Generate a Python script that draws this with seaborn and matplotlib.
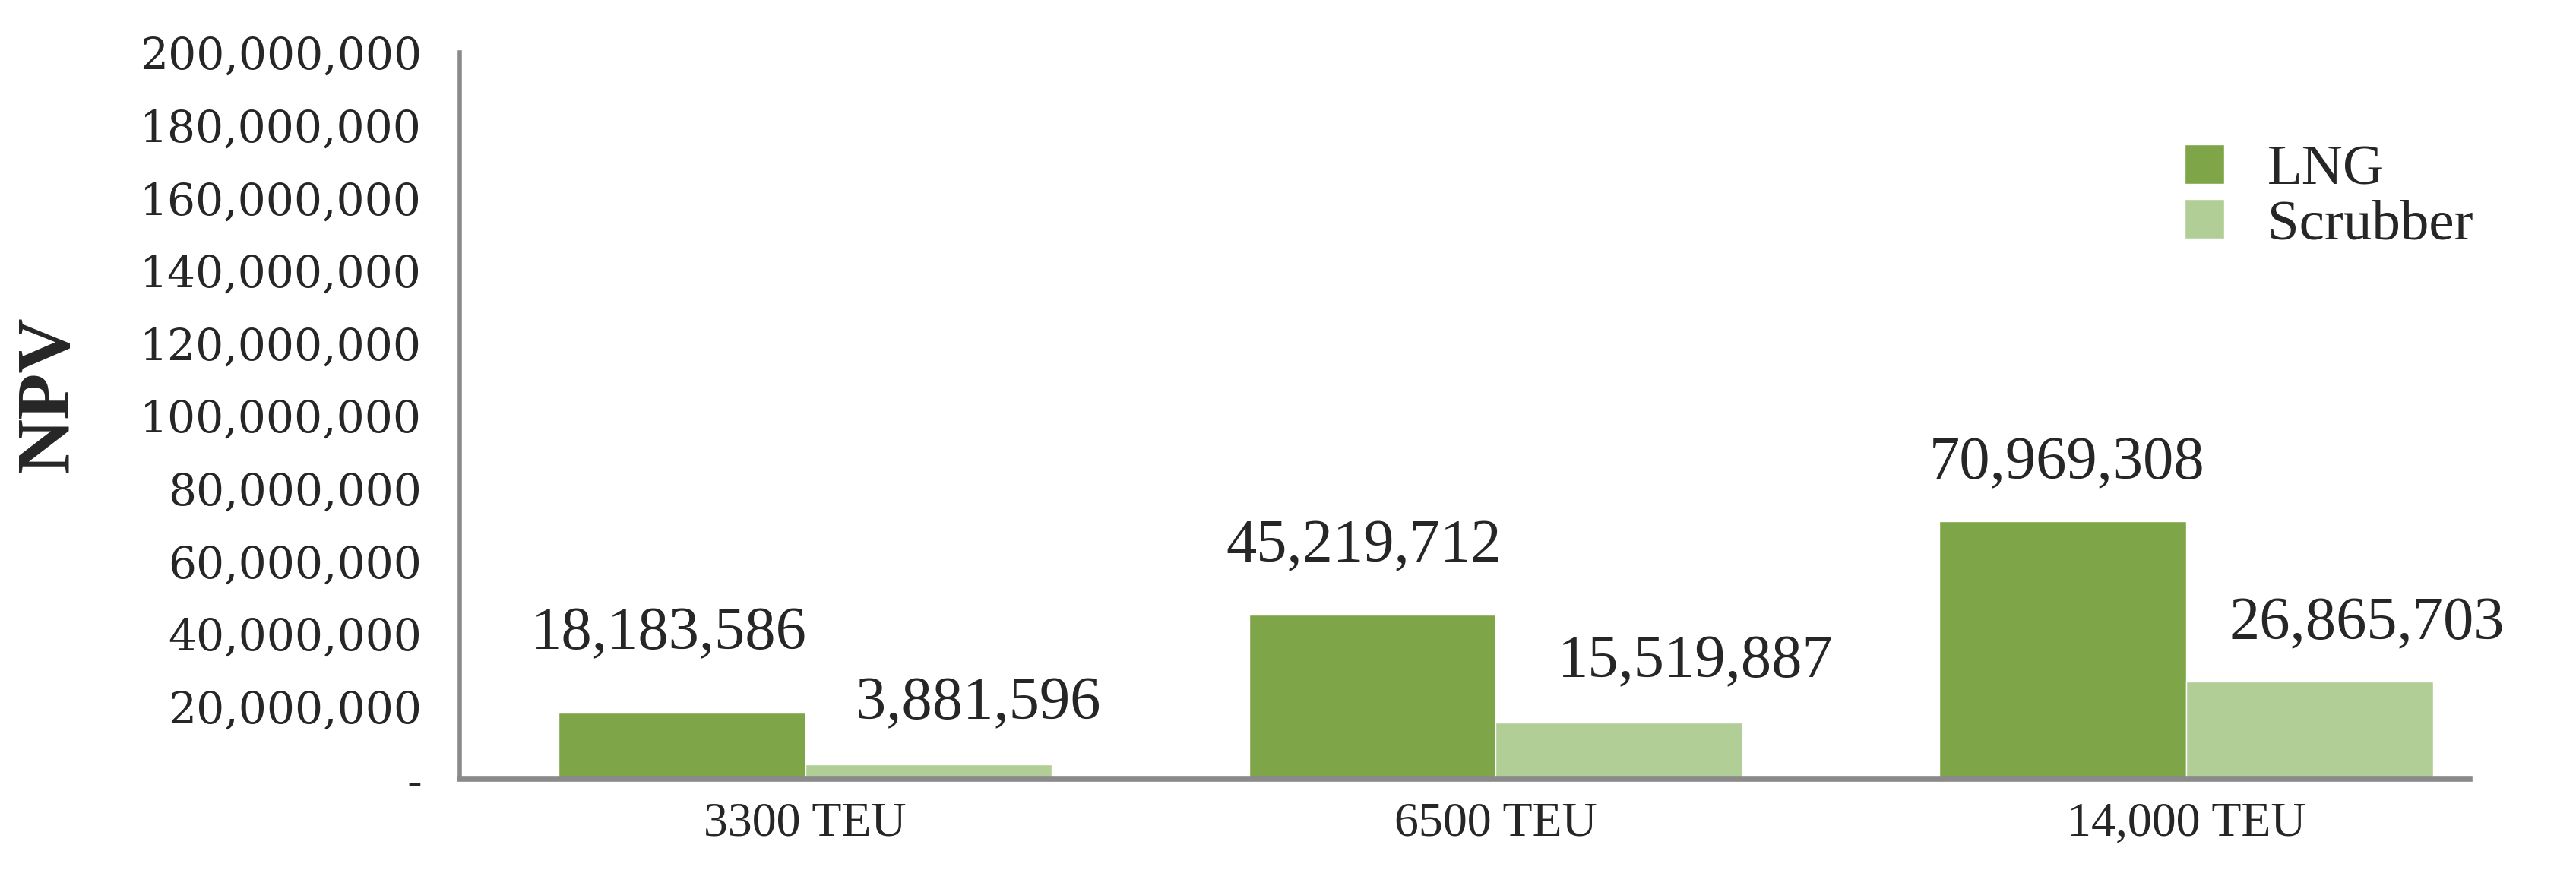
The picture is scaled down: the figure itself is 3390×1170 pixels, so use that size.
import pandas as pd
import matplotlib.pyplot as plt
import seaborn as sns
from matplotlib.ticker import FuncFormatter, MultipleLocator

# data
ships = ["3300 TEU", "6500 TEU", "14,000 TEU"]
lng_npv = [18183586, 45219712, 70969308]
scrubber_npv = [3881596, 15519887, 26865703]
series = ["LNG", "Scrubber"]

df = pd.DataFrame({
    "ship": ships * 2,
    "npv": lng_npv + scrubber_npv,
    "fuel": [series[0]] * len(ships) + [series[1]] * len(ships),
})

sns.set_style("white")
plt.rcParams["font.family"] = ["Liberation Serif", "DejaVu Serif"]

fig = plt.figure(figsize=(33.9, 11.7), dpi=100)
ax = fig.add_axes([0.1785, 0.124, 0.9587 - 0.1785, 0.941 - 0.124])

sns.barplot(data=df, x="ship", y="npv", hue="fuel",
            palette=["#7EA548", "#B0CE95"], saturation=1,
            width=0.715, gap=0, ax=ax)

ax.set_xlim(-0.5, 2.41)
ax.set_ylim(0, 200_000_000)
ax.yaxis.set_major_locator(MultipleLocator(20_000_000))
ax.yaxis.set_major_formatter(FuncFormatter(lambda v, p: "-" if v == 0 else f"{v:,.0f}"))

for side in ["top", "right"]:
    ax.spines[side].set_visible(False)
ax.spines["left"].set_color("#8a8a8a")
ax.spines["left"].set_linewidth(4)
ax.spines["bottom"].set_color("#8a8a8a")
ax.spines["bottom"].set_linewidth(5.5)
ax.set_axisbelow(False)

ax.tick_params(axis="y", length=0, pad=36)
ax.tick_params(axis="x", length=0, pad=22)
for t in ax.get_yticklabels():
    t.set_fontfamily("DejaVu Serif")
    t.set_fontsize(42)
for t in ax.get_xticklabels():
    t.set_fontsize(46)
ax.set_xlabel("")
ax.set_ylabel("")

fig.text(65 / 3390, 1 - 519 / 1170, "NPV", rotation=90, ha="center", va="center",
         fontsize=72, fontweight="bold")

# value labels, nudged like the hand-placed ones in the original
nudges = [[(-12, 60), (-8, 50), (4, 40)],
          [(47, 43), (72, 43), (54, 40)]]
for cont, offs in zip(ax.containers, nudges):
    for bar, (dx, dy) in zip(cont, offs):
        x = bar.get_x() + bar.get_width() / 2
        y = bar.get_height()
        ax.annotate(f"{y:,.0f}", (x, y), xytext=(dx, dy), textcoords="offset points",
                    ha="center", va="baseline", fontsize=58)

handles, labels = ax.get_legend_handles_labels()
ax.legend(handles, labels, loc="upper left", bbox_to_anchor=(0.837, 0.87),
          bbox_transform=fig.transFigure, frameon=False, fontsize=54,
          handlelength=0.7, handleheight=0.7, handletextpad=0.75,
          labelspacing=0.05, borderpad=0)

fig.savefig("out.png", dpi=100, facecolor="white")
